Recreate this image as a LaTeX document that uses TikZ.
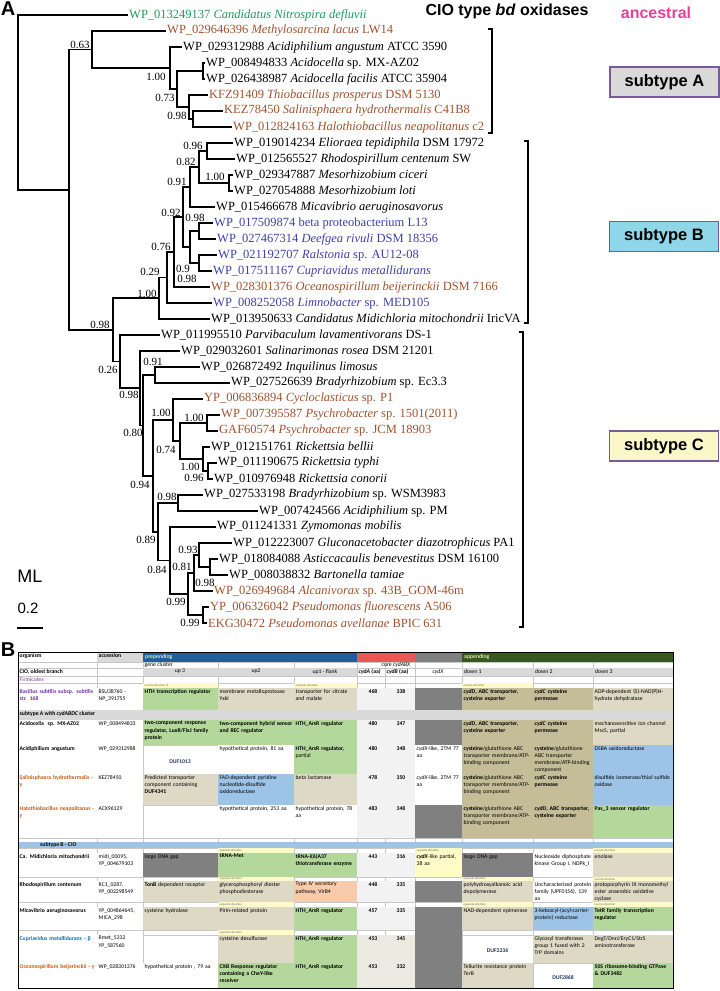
\documentclass[tikz,border=0pt]{standalone}
\usepackage{fontspec}
\setmainfont{Liberation Serif}
\newfontfamily\sansfont{Liberation Sans}
\newfontfamily\cellfont{Carlito}
\hyphenpenalty=10000

% table cell: name, x1, y1, x2, y2, fill, text
\newcommand{\tcell}[7]{%
  \fill[#6] ({#2+0.3},{#3+0.3}) rectangle ({#4-0.3},{#5-0.3});
  \pgfmathsetmacro\cellw{#4-#2-3}
  \node[cell, text width=\cellw pt] (#1) at ({#2+1.5},{#3+1}) {#7};}
% yellow direction note: name, x1, y1, x2, y2, text
\newcommand{\tnote}[6]{%
  \fill[noteYellow] ({#2+0.3},{#3+0.3}) rectangle ({#4-0.3},{#5-0.3});
  \node[note] (#1) at ({#2+1.5},{(#3+#5)/2}) {#6};}
% cydA / cydB lengths: name, y1, y2, fill, A, B
\newcommand{\tnums}[6]{%
  \fill[#4] (357.3,{#2+0.3}) rectangle (414.7,{#3-0.3});
  \node[num] (#1a) at (373,{#2+1.5}) {#5};
  \node[num] (#1b) at (401,{#2+1.5}) {#6};}

\tikzset{
  branch/.style={line width=1.6pt},
  leaf/.style={anchor=west, inner sep=1pt, font=\fontsize{12.5}{14}\selectfont},
  supp/.style={inner sep=0pt, font=\fontsize{11}{12}\selectfont},
  bracket/.style={line width=1.4pt},
  subbox/.style={draw=boxEdge, line width=1.2pt, minimum width=109pt, minimum height=30pt,
    inner sep=0pt, font=\sansfont\bfseries\fontsize{16.5}{18}\selectfont},
  cell/.style={anchor=north west, inner sep=0pt, align=left, font=\cellfont\fontsize{5.7}{7.2}\selectfont},
  num/.style={anchor=north, inner sep=0pt, font=\cellfont\bfseries\fontsize{5.7}{7.2}\selectfont},
  note/.style={anchor=west, inner sep=0pt, text=black!60, font=\cellfont\fontsize{3}{3}\selectfont},
  head/.style={anchor=west, inner sep=0pt, text=headText, font=\cellfont\bfseries\fontsize{5.7}{7.2}\selectfont},
  duf/.style={inner sep=0pt, text=txNavy, font=\cellfont\bfseries\fontsize{5.7}{7.2}\selectfont},
  tabline/.style={draw=black!22, line width=0.3pt},
}

\begin{document}
\begin{tikzpicture}[x=1pt, y=-1pt]
    \definecolor{tGreen}{HTML}{1E9A5E}
    \definecolor{tBrown}{HTML}{A0522D}
    \definecolor{tBlue}{HTML}{3F3FAA}
    \definecolor{pinkText}{HTML}{E8409A}
    \definecolor{boxEdge}{HTML}{7A5A9A}
    \definecolor{boxA}{HTML}{D9D9D9}
    \definecolor{boxB}{HTML}{8FD6E8}
    \definecolor{boxC}{HTML}{FAF7C8}
    \definecolor{cellGreen}{HTML}{B4D79B}
    \definecolor{cellTan}{HTML}{DDD9C4}
    \definecolor{cellOlive}{HTML}{C4BD97}
    \definecolor{cellBlue}{HTML}{9DC3E6}
    \definecolor{cellOrange}{HTML}{F8CBAD}
    \definecolor{cellDark}{HTML}{808080}
    \definecolor{cellGray}{HTML}{D9D9D9}
    \definecolor{cellLight}{HTML}{F2F2F2}
    \definecolor{cellBeige}{HTML}{ECEAE0}
    \definecolor{noteYellow}{HTML}{FFFBC8}
    \definecolor{headBlue}{HTML}{1F5F9E}
    \definecolor{headRed}{HTML}{E85858}
    \definecolor{headGray}{HTML}{7F7F7F}
    \definecolor{headGreen}{HTML}{385723}
    \definecolor{headText}{HTML}{D8E9A8}
    \definecolor{txPurple}{HTML}{7030A0}
    \definecolor{txBrown}{HTML}{C55A11}
    \definecolor{txBlue}{HTML}{0070C0}
    \definecolor{txNavy}{HTML}{1F3864}

    \useasboundingbox (0,0) rectangle (720,991);

    % Panel letters and titles
    \node[font=\sansfont\bfseries\fontsize{20}{22}\selectfont, inner sep=0pt] (panelA) at (8,9) {A};
    \node[font=\sansfont\bfseries\fontsize{16}{18}\selectfont] (title) at (507,11) {CIO type \textit{bd} oxidases};
    \node[font=\sansfont\bfseries\fontsize{16}{18}\selectfont, text=pinkText] (ancestral) at (656,13) {ancestral};

    % Leaves
    \foreach \i/\x/\c/\t in {
      1/128/tGreen/{WP\_013249137 \textit{Candidatus Nitrospira defluvii}},
      2/166/tBrown/{WP\_029646396 \textit{Methylosarcina lacus} LW14},
      3/182/black/{WP\_029312988 \textit{Acidiphilium angustum} ATCC 3590},
      4/205/black/{WP\_008494833 \textit{Acidocella} sp. MX-AZ02},
      5/205/black/{WP\_026438987 \textit{Acidocella facilis} ATCC 35904},
      6/208/tBrown/{KFZ91409 \textit{Thiobacillus prosperus} DSM 5130},
      7/223/tBrown/{KEZ78450 \textit{Salinisphaera hydrothermalis} C41B8},
      8/232/tBrown/{WP\_012824163 \textit{Halothiobacillus neapolitanus} c2},
      9/233/black/{WP\_019014234 \textit{Elioraea tepidiphila} DSM 17972},
      10/235/black/{WP\_012565527 \textit{Rhodospirillum centenum} SW},
      11/233/black/{WP\_029347887 \textit{Mesorhizobium ciceri}},
      12/233/black/{WP\_027054888 \textit{Mesorhizobium loti}},
      13/215/black/{WP\_015466678 \textit{Micavibrio aeruginosavorus}},
      14/213/tBlue/{WP\_017509874 beta proteobacterium L13},
      15/216/tBlue/{WP\_027467314 \textit{Deefgea rivuli} DSM 18356},
      16/217/tBlue/{WP\_021192707 \textit{Ralstonia} sp. AU12-08},
      17/212/tBlue/{WP\_017511167 \textit{Cupriavidus metallidurans}},
      18/210/tBrown/{WP\_028301376 \textit{Oceanospirillum beijerinckii} DSM 7166},
      19/212/tBlue/{WP\_008252058 \textit{Limnobacter} sp. MED105},
      20/210/black/{WP\_013950633 \textit{Candidatus Midichloria mitochondrii} IricVA},
      21/160/black/{WP\_011995510 \textit{Parvibaculum lavamentivorans} DS-1},
      22/180/black/{WP\_029032601 \textit{Salinarimonas rosea} DSM 21201},
      23/200/black/{WP\_026872492 \textit{Inquilinus limosus}},
      24/230/black/{WP\_027526639 \textit{Bradyrhizobium} sp. Ec3.3},
      25/203/tBrown/{YP\_006836894 \textit{Cycloclasticus} sp. P1},
      26/220/tBrown/{WP\_007395587 \textit{Psychrobacter} sp. 1501(2011)},
      27/218/tBrown/{GAF60574 \textit{Psychrobacter} sp. JCM 18903},
      28/210/black/{WP\_012151761 \textit{Rickettsia bellii}},
      29/217/black/{WP\_011190675 \textit{Rickettsia typhi}},
      30/213/black/{WP\_010976948 \textit{Rickettsia conorii}},
      31/203/black/{WP\_027533198 \textit{Bradyrhizobium} sp. WSM3983},
      32/258/black/{WP\_007424566 \textit{Acidiphilium} sp. PM},
      33/216/black/{WP\_011241331 \textit{Zymomonas mobilis}},
      34/232/black/{WP\_012223007 \textit{Gluconacetobacter diazotrophicus} PA1},
      35/218/black/{WP\_018084088 \textit{Asticcacaulis benevestitus} DSM 16100},
      36/228/black/{WP\_008038832 \textit{Bartonella tamiae}},
      37/213/tBrown/{WP\_026949684 \textit{Alcanivorax} sp. 43B\_GOM-46m},
      38/209/tBrown/{YP\_006326042 \textit{Pseudomonas fluorescens} A506},
      39/207/tBrown/{EKG30472 \textit{Pseudomonas avellanae} BPIC 631}}
        \node[leaf, text=\c] (l\i) at (\x,{15+16*(\i-1)}) {\t};

    % Internal nodes
    \coordinate (root) at (18,102);
    \coordinate (nN1) at (69,190);
    \coordinate (nA) at (92,49.5);
    \coordinate (nAng) at (170,68);
    \coordinate (nAccT) at (177,89);
    \coordinate (nAcc) at (203,71);
    \coordinate (nTSH) at (189,107);
    \coordinate (nSH) at (193,119);
    \coordinate (nN2) at (113,330);
    \coordinate (nB0) at (159,298);
    \coordinate (nB1) at (167,277.5);
    \coordinate (nB2) at (174,252);
    \coordinate (nB3) at (183,217);
    \coordinate (nMic) at (190,187);
    \coordinate (nEM) at (199,167);
    \coordinate (nEli) at (207,151);
    \coordinate (nMes) at (229,183);
    \coordinate (nBeta) at (190,247);
    \coordinate (nBD) at (199,231);
    \coordinate (nRC) at (199,263);
    \coordinate (nC0) at (120,361.5);
    \coordinate (nC1) at (140,388);
    \coordinate (nC2) at (143,425.5);
    \coordinate (nIB) at (155,375);
    \coordinate (nC3) at (153,476);
    \coordinate (nCyc) at (173,420);
    \coordinate (nPR) at (180,441);
    \coordinate (nPsy) at (207,423);
    \coordinate (nRic) at (203,459);
    \coordinate (nRtc) at (208,471);
    \coordinate (nBZ) at (158,532);
    \coordinate (nWP) at (178,503);
    \coordinate (nZym) at (170,560.5);
    \coordinate (nGP) at (188,594);
    \coordinate (nAlc) at (194,573);
    \coordinate (nGlu) at (199,555);
    \coordinate (nAB) at (210,567);
    \coordinate (nPse) at (203,615);

    % Branches, root and subtype A
    \draw[branch] (l1.west) -| (root) |- (nN1);
    \draw[branch] (nA) -| (nN1) |- (nN2);
    \draw[branch] (l2.west) -| (nA) |- (nAng);
    \draw[branch] (l3.west) -| (nAng) |- (nAccT);
    \draw[branch] (nAcc) -| (nAccT) |- (nTSH);
    \draw[branch] (l4.west) -| (nAcc) |- (l5.west);
    \draw[branch] (l6.west) -| (nTSH) |- (nSH);
    \draw[branch] (l7.west) -| (nSH) |- (l8.west);
    % subtype B
    \draw[branch] (nB0) -| (nN2) |- (nC0);
    \draw[branch] (nB1) -| (nB0) |- (l20.west);
    \draw[branch] (nB2) -| (nB1) |- (l19.west);
    \draw[branch] (nB3) -| (nB2) |- (l18.west);
    \draw[branch] (nMic) -| (nB3) |- (nBeta);
    \draw[branch] (nEM) -| (nMic) |- (l13.west);
    \draw[branch] (nEli) -| (nEM) |- (nMes);
    \draw[branch] (l9.west) -| (nEli) |- (l10.west);
    \draw[branch] (l11.west) -| (nMes) |- (l12.west);
    \draw[branch] (nBD) -| (nBeta) |- (nRC);
    \draw[branch] (l14.west) -| (nBD) |- (l15.west);
    \draw[branch] (l16.west) -| (nRC) |- (l17.west);
    % subtype C
    \draw[branch] (l21.west) -| (nC0) |- (nC1);
    \draw[branch] (l22.west) -| (nC1) |- (nC2);
    \draw[branch] (nIB) -| (nC2) |- (nC3);
    \draw[branch] (l23.west) -| (nIB) |- (l24.west);
    \draw[branch] (nCyc) -| (nC3) |- (nBZ);
    \draw[branch] (l25.west) -| (nCyc) |- (nPR);
    \draw[branch] (nPsy) -| (nPR) |- (nRic);
    \draw[branch] (l26.west) -| (nPsy) |- (l27.west);
    \draw[branch] (l28.west) -| (nRic) |- (nRtc);
    \draw[branch] (l29.west) -| (nRtc) |- (l30.west);
    \draw[branch] (nWP) -| (nBZ) |- (nZym);
    \draw[branch] (l31.west) -| (nWP) |- (l32.west);
    \draw[branch] (l33.west) -| (nZym) |- (nGP);
    \draw[branch] (nAlc) -| (nGP) |- (nPse);
    \draw[branch] (nGlu) -| (nAlc) |- (l37.west);
    \draw[branch] (l34.west) -| (nGlu) |- (nAB);
    \draw[branch] (l35.west) -| (nAB) |- (l36.west);
    \draw[branch] (l38.west) -| (nPse) |- (l39.west);

    % Support values
    \foreach \n/\x/\y/\v in {1/80/45/0.63, 2/156/77/1.00, 3/165/98/0.73, 4/177/116/0.98,
      5/193/146/0.96, 6/186/162/0.82, 7/215/177/1.00, 8/177/182/0.91, 9/171/213/0.92,
      10/195/218/0.98, 11/161/247/0.76, 12/150/272/0.29, 13/183/269/0.9, 14/187/279/0.98,
      15/147/294/1.00, 16/100/325/0.98, 17/108/370/0.26, 18/153/362/0.91, 19/129/395/0.98,
      20/161/413/1.00, 21/194/418/1.00, 22/133/433/0.80, 23/166/450/0.74, 24/190/467/1.00,
      25/194/478/0.96, 26/140/485/0.94, 27/167/497/0.98, 28/146/540/0.89, 29/188/550/0.93,
      30/157/570/0.84, 31/182/567/0.81, 32/205/583/0.98, 33/176/602/0.99, 34/190/623/0.99}
        \node[supp] (s\n) at (\x,\y) {\v};

    % Subtype brackets and boxes
    \draw[bracket] (488,29) -- (492,29) -- (492,133) -- (488,133);
    \draw[bracket] (524,141) -- (528,141) -- (528,323) -- (524,323);
    \draw[bracket] (519,332) -- (523,332) -- (523,627) -- (519,627);
    \node[subbox, fill=boxA] (boxSubA) at (664.5,82) {subtype A};
    \node[subbox, fill=boxB] (boxSubB) at (664,236.5) {subtype B};
    \node[subbox, fill=boxC] (boxSubC) at (664,446) {subtype C};

    % Scale bar
    \node[font=\sansfont\fontsize{18}{20}\selectfont, inner sep=0pt] (ml) at (30,576) {ML};
    \node[font=\sansfont\fontsize{15}{17}\selectfont, inner sep=0pt] (scale) at (28,608) {0.2};
    \draw[line width=2pt] (17,628) -- (43,628);

    % ---------------- Panel B: gene neighbourhood table ----------------
    \node[font=\sansfont\bfseries\fontsize{20}{22}\selectfont, inner sep=0pt] (panelB) at (8,650) {B};

    % grid
    \foreach \cx in {97,143,218,294,357,385,415,462,533,593}
        \draw[tabline] (\cx,652) -- (\cx,988);
    \foreach \ry in {662,668,676,683,688,710,720,745,774,805,838,842,848,853,877,881,902,907,930,935,963}
        \draw[tabline] (18,\ry) -- (673,\ry);

    % header rows
    \tcell{hOrg}{18}{652}{97}{662}{white}{\textbf{organism}}
    \tcell{hAcc}{97}{652}{143}{662}{cellGray}{\textbf{accession}}
    \fill[headBlue] (143,652) rectangle (357,662);
    \fill[headRed] (357,652) rectangle (415,662);
    \fill[headGray] (415,652) rectangle (462,662);
    \fill[headGreen] (462,652) rectangle (673,662);
    \node[head] (hPre) at (145,657) {prepending};
    \node[head] (hApp) at (464,657) {appending};
    \node[cell] (hGene) at (144.5,662.5) {gene cluster};
    \node[cell, anchor=north] (hCore) at (396,662.5) {core \textit{cydABX}};
    \foreach \a/\b in {143/218,218/294,294/357,462/533,533/593,593/673}
        \fill[cellGray] ({\a+0.3},668.3) rectangle ({\b-0.3},675.7);
    \node[cell] (hClo) at (19.5,669) {\textbf{CIO, oldest branch}};
    \node[cell, anchor=north] (hUp3) at (180,669) {up 3};
    \node[cell, anchor=north] (hUp2) at (256,669) {up2};
    \node[cell, anchor=north] (hUp1) at (325,669) {up1 - flank};
    \node[cell] (hCydA) at (358.5,669) {\textbf{\textit{cydA} (aa)}};
    \node[cell] (hCydB) at (386.5,669) {\textbf{\textit{cydB} (aa)}};
    \node[cell, anchor=north] (hCydX) at (438,669) {\textit{cydX}};
    \node[cell] (hDn1) at (464,669) {down 1};
    \node[cell] (hDn2) at (535,669) {down 2};
    \node[cell] (hDn3) at (595,669) {down 3};
    \node[cell, text=txPurple] (hFirm) at (19.5,677) {Firmicutes};

    % Bacillus
    \tnote{n0a}{143}{683}{218}{688}{reverse direction r5}
    \tnote{n0b}{294}{683}{357}{688}{opposite direction}
    \tnote{n0c}{462}{683}{533}{688}{reverse direction}
    \tcell{bacOrg}{18}{688}{97}{710}{white}{\textbf{\color{txPurple}Bacillus subtilis subsp. subtilis str. 168}}
    \tcell{bacAcc}{97}{688}{143}{710}{white}{BSU38760 - NP\_391755}
    \tcell{bacU3}{143}{688}{218}{710}{cellGreen}{\textbf{HTH transcription regulator}}
    \tcell{bacU2}{218}{688}{294}{710}{cellTan}{membrane metalloprotease YxkI}
    \tcell{bacU1}{294}{688}{357}{710}{cellTan}{transporter for citrate and malate}
    \tnums{bac}{688}{710}{cellLight}{468}{338}
    \tcell{bacX}{415}{688}{462}{710}{cellDark}{}
    \tcell{bacD1}{462}{688}{533}{710}{cellOlive}{\textbf{\textit{cydD}, ABC transporter, cysteine exporter}}
    \tcell{bacD2}{533}{688}{593}{710}{cellOlive}{\textbf{\textit{cydC} cysteine permease}}
    \tcell{bacD3}{593}{688}{673}{710}{cellTan}{ADP-dependent (S)-NAD(P)H-hydrate dehydratase}

    % subtype A band
    \fill[cellGray] (18,710.3) rectangle (673,719.7);
    \node[cell] (bandA) at (19.5,711.5) {\textbf{subtype A with \textit{cydABDC} cluster}};

    % Acidocella
    \tcell{acdOrg}{18}{720}{97}{745}{white}{\textbf{Acidocella\ \ sp. MX-AZ02}}
    \tcell{acdAcc}{97}{720}{143}{745}{white}{WP\_008494833}
    \tcell{acdU3}{143}{720}{218}{745}{cellGreen}{\textbf{two-component response regulator, LuxR/FixJ family protein}}
    \tcell{acdU2}{218}{720}{294}{745}{cellGreen}{\textbf{two-component hybrid sensor and REC regulator}}
    \tcell{acdU1}{294}{720}{357}{745}{cellGreen}{\textbf{HTH\_ArsR regulator}}
    \tnums{acd}{720}{745}{cellLight}{480}{347}
    \tcell{acdX}{415}{720}{462}{745}{cellDark}{}
    \tcell{acdD1}{462}{720}{533}{745}{cellOlive}{\textbf{\textit{cydD}, ABC transporter, cysteine exporter}}
    \tcell{acdD2}{533}{720}{593}{745}{cellOlive}{\textbf{\textit{cydC} cysteine permease}}
    \tcell{acdD3}{593}{720}{673}{745}{cellTan}{mechanosensitive ion channel MscS, partial}

    % Acidiphilium
    \tcell{acpOrg}{18}{745}{97}{774}{white}{\textbf{Acidiphilium angustum}}
    \tcell{acpAcc}{97}{745}{143}{774}{white}{WP\_029312988}
    \node[duf] (acpU3) at (180,762) {DUF1013};
    \tcell{acpU2}{218}{745}{294}{774}{white}{hypothetical protein, 81 aa}
    \tcell{acpU1}{294}{745}{357}{774}{cellGreen}{\textbf{HTH\_ArsR regulator,} partial}
    \tnums{acp}{745}{774}{cellLight}{480}{348}
    \tcell{acpX}{415}{745}{462}{774}{white}{\textit{cydX}-like, 2TM 77 aa}
    \tcell{acpD1}{462}{745}{533}{774}{cellOlive}{\textbf{cysteine}/glutathione ABC transporter membrane/ATP-binding component}
    \tcell{acpD2}{533}{745}{593}{774}{cellOlive}{\textbf{cysteine}/glutathione ABC transporter membrane/ATP-binding component}
    \tcell{acpD3}{593}{745}{673}{774}{cellBlue}{DSBA oxidoreductase}

    % Salinisphaera
    \tcell{salOrg}{18}{774}{97}{805}{white}{\textbf{\color{txBrown}Salinisphaera hydrothermalis - γ}}
    \tcell{salAcc}{97}{774}{143}{805}{white}{KEZ78450}
    \tcell{salU3}{143}{774}{218}{805}{cellTan}{Predicted transporter component containing \textbf{DUF4341}}
    \tcell{salU2}{218}{774}{294}{805}{cellBlue}{FAD-dependent pyridine nucleotide-disulfide oxidoreductase}
    \tcell{salU1}{294}{774}{357}{805}{cellTan}{beta lactamase}
    \tnums{sal}{774}{805}{cellLight}{478}{350}
    \tcell{salX}{415}{774}{462}{805}{white}{\textit{cydX}-like, 2TM 77 aa}
    \tcell{salD1}{462}{774}{533}{805}{cellOlive}{\textbf{cysteine}/glutathione ABC transporter membrane/ATP-binding component}
    \tcell{salD2}{533}{774}{593}{805}{cellOlive}{\textbf{\textit{cydC} cysteine permease}}
    \tcell{salD3}{593}{774}{673}{805}{cellBlue}{disulfide isomerase/thiol sulfide oxidase}

    % Halothiobacillus
    \tcell{halOrg}{18}{805}{97}{838}{white}{\textbf{\color{txBrown}Halothiobacillus neapolitanus - γ}}
    \tcell{halAcc}{97}{805}{143}{838}{white}{ACX96129}
    \tcell{halU2}{218}{805}{294}{838}{white}{hypothetical protein, 253 aa}
    \tcell{halU1}{294}{805}{357}{838}{white}{hypothetical protein, 78 aa}
    \tnums{hal}{805}{838}{cellLight}{483}{348}
    \tcell{halX}{415}{805}{462}{838}{cellDark}{}
    \tcell{halD1}{462}{805}{533}{838}{cellOlive}{\textbf{cysteine}/glutathione ABC transporter membrane/ATP-binding component}
    \tcell{halD2}{533}{805}{593}{838}{cellOlive}{\textbf{\textit{cydD}, ABC transporter, cysteine exporter}}
    \tcell{halD3}{593}{805}{673}{838}{cellGreen}{\textbf{Pas\_3 sensor regulator}}

    % subtype B band
    \fill[cellBlue] (18,842.3) rectangle (673,847.7);
    \node[cell, anchor=west] (bandB) at (40,845) {\textbf{subtype B - CIO}};

    % Midichloria
    \tnote{n1a}{218}{848}{294}{853}{opposite direction}
    \tnote{n1b}{415}{848}{462}{853}{opposite direction}
    \tnote{n1c}{593}{848}{673}{853}{reverse direction}
    \tcell{midOrg}{18}{853}{97}{877}{white}{\textbf{Ca. Midichloria mitochondrii}}
    \tcell{midAcc}{97}{853}{143}{877}{white}{midi\_00095, YP\_004679103}
    \tcell{midU3}{143}{853}{218}{877}{cellDark}{large DNA gap}
    \tcell{midU2}{218}{853}{294}{877}{cellGreen}{\textbf{tRNA-Met}}
    \tcell{midU1}{294}{853}{357}{877}{cellGreen}{\textbf{tRNA-i(6)A37 thiotransferase enzyme}}
    \tnums{mid}{853}{877}{cellLight}{443}{316}
    \tcell{midX}{415}{853}{462}{877}{noteYellow}{\textbf{\textit{cydX}}-like partial, 38 aa}
    \tcell{midD1}{462}{853}{533}{877}{cellDark}{large DNA gap}
    \tcell{midD2}{533}{853}{593}{877}{white}{Nucleoside diphosphate kinase Group I, NDPk\_I}
    \tcell{midD3}{593}{853}{673}{877}{cellTan}{enolase}

    % Rhodospirillum
    \tnote{n2a}{218}{877}{294}{881}{opposite direction}
    \tnote{n2b}{462}{877}{533}{881}{opposite direction}
    \tnote{n2c}{593}{877}{673}{881}{reverse direction}
    \tcell{rhoOrg}{18}{881}{97}{902}{white}{\textbf{Rhodospirillum centenum}}
    \tcell{rhoAcc}{97}{881}{143}{902}{white}{RC1\_0287, YP\_002298549}
    \tcell{rhoU3}{143}{881}{218}{902}{cellTan}{\textbf{TonB} dependent receptor}
    \tcell{rhoU2}{218}{881}{294}{902}{cellTan}{glycerophosphoryl diester phosphodiesterase}
    \tcell{rhoU1}{294}{881}{357}{902}{cellOrange}{Type IV secretory pathway, VirB4}
    \tnums{rho}{881}{902}{cellLight}{448}{335}
    \tcell{rhoX}{415}{881}{462}{902}{cellDark}{}
    \tcell{rhoD1}{462}{881}{533}{902}{cellTan}{polyhydroxyalkanoic acid depolymerase}
    \tcell{rhoD2}{533}{881}{593}{902}{white}{Uncharacterized protein family (UPF0156), 139 aa}
    \tcell{rhoD3}{593}{881}{673}{902}{cellTan}{protoporphyrin IX monomethyl ester anaerobic oxidative cyclase}

    % Micavibrio
    \tnote{n3a}{218}{902}{294}{907}{opposite direction}
    \tnote{n3b}{462}{902}{533}{907}{opposite direction}
    \tnote{n3c}{593}{902}{673}{907}{reverse direction}
    \tcell{micOrg}{18}{907}{97}{930}{white}{\textbf{Micavibrio aeruginosavorus}}
    \tcell{micAcc}{97}{907}{143}{930}{white}{YP\_004864645, MICA\_298}
    \tcell{micU3}{143}{907}{218}{930}{cellTan}{cysteine hydrolase}
    \tcell{micU2}{218}{907}{294}{930}{cellTan}{Pirin-related protein}
    \tcell{micU1}{294}{907}{357}{930}{cellGreen}{\textbf{HTH\_ArsR regulator}}
    \tnums{mic}{907}{930}{cellLight}{457}{335}
    \tcell{micX}{415}{907}{462}{988}{cellDark}{}
    \tcell{micD1}{462}{907}{533}{930}{cellTan}{NAD-dependent epimerase}
    \tcell{micD2}{533}{907}{593}{930}{cellBlue}{3-ketoacyl-(acyl-carrier-protein) reductase}
    \tcell{micD3}{593}{907}{673}{930}{cellGreen}{\textbf{TetR family transcription regulator}}

    % Cupriavidus
    \tnote{n4a}{218}{930}{294}{935}{opposite direction}
    \tcell{cupOrg}{18}{935}{97}{963}{white}{\textbf{\color{txBlue}Cupriavidus metallidurans - β}}
    \tcell{cupAcc}{97}{935}{143}{963}{white}{Rmet\_5232 YP\_587560}
    \tcell{cupU2}{218}{935}{294}{963}{cellTan}{cysteine desulfurase}
    \tcell{cupU1}{294}{935}{357}{963}{cellGreen}{\textbf{HTH\_ArsR regulator}}
    \tnums{cup}{935}{963}{cellBeige}{453}{345}
    \node[duf] (cupD1) at (497.5,951) {DUF2236};
    \tcell{cupD2}{533}{935}{593}{963}{cellTan}{Glycosyl transferases group 1 fused with 2 TrP domains}
    \tcell{cupD3}{593}{935}{673}{963}{cellTan}{DegT/DnrJ/EryC1/StrS aminotransferase}

    % Oceanospirillum
    \tcell{oceOrg}{18}{963}{97}{988}{white}{\textbf{\color{txBrown}Oceanospirillum beijerinckii - γ}}
    \tcell{oceAcc}{97}{963}{143}{988}{white}{WP\_028301376}
    \tcell{oceU3}{143}{963}{218}{988}{white}{hypothetical protein , 79 aa}
    \tcell{oceU2}{218}{963}{294}{988}{cellGreen}{\textbf{CitB Response regulator containing a CheY-like receiver}}
    \tcell{oceU1}{294}{963}{357}{988}{cellGreen}{\textbf{HTH\_ArsR regulator}}
    \tnums{oce}{963}{988}{cellBeige}{453}{332}
    \tcell{oceD1}{462}{963}{533}{988}{cellTan}{Tellurite resistance protein TerB}
    \node[duf] (oceD2) at (563,978) {DUF2868};
    \tcell{oceD3}{593}{963}{673}{988}{cellGreen}{\textbf{50S ribosome-binding GTPase \& DUF3482}}

    % table frame
    \draw[line width=1pt] (18,652) rectangle (673,988);
\end{tikzpicture}
\end{document}
